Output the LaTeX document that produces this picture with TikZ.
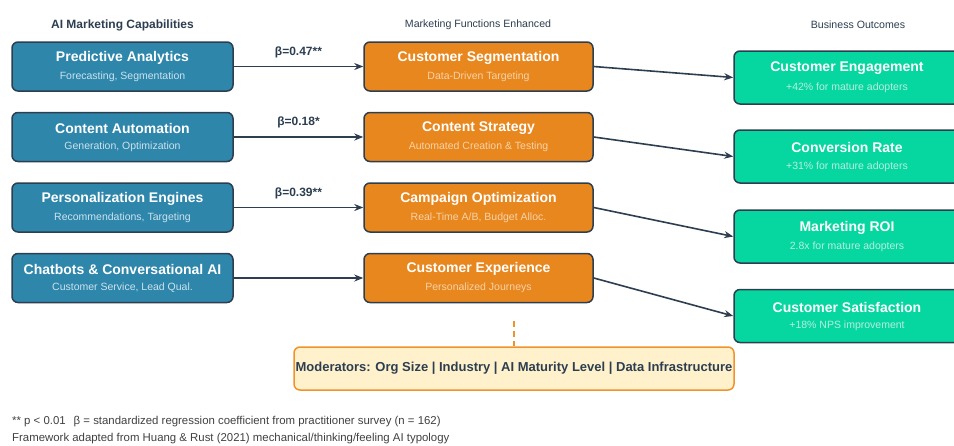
\documentclass[tikz,border=0pt]{standalone}
\usepackage{fontspec}
\setmainfont{Liberation Sans}
\usetikzlibrary{arrows.meta}

\definecolor{capblue}{HTML}{2E86AB}
\definecolor{funcorange}{HTML}{E8871E}
\definecolor{outgreen}{HTML}{06D6A0}
\definecolor{ink}{HTML}{2C3E50}
\definecolor{modfill}{HTML}{FFF1CC}
\definecolor{modedge}{HTML}{F0932B}
\definecolor{capsub}{HTML}{CCE3EE}
\definecolor{funcsub}{HTML}{F7D3A8}
\definecolor{outsub}{HTML}{B6F0E0}
\definecolor{notegray}{HTML}{404040}

\tikzset{
  stagebox/.style={draw=ink, line width=1.5pt, rounded corners=6pt, inner sep=0pt},
  capbox/.style={stagebox, fill=capblue, minimum width=221pt, minimum height=49pt},
  funcbox/.style={stagebox, fill=funcorange, minimum width=229pt, minimum height=49pt},
  outbox/.style={stagebox, fill=outgreen, minimum width=226pt, minimum height=53pt},
  boxtitle/.style={inner sep=0pt, text=white, font=\fontsize{14}{16}\selectfont\bfseries},
  boxsub/.style={inner sep=0pt, font=\fontsize{10.5}{12}\selectfont},
  colhead/.style={inner sep=0pt, text=ink, font=\fontsize{10.6}{13}\selectfont},
  flow/.style={draw=ink, line width=1.6pt, -{Stealth[length=9pt,width=7pt]}},
  beta/.style={inner sep=0pt, text=ink, font=\fontsize{12}{14}\selectfont\bfseries},
  note/.style={inner sep=0pt, anchor=west, text=notegray, font=\fontsize{11.4}{13}\selectfont},
}

% box with a bold title line and a lighter subtitle line
\newcommand\fwbox[7]{%
  \node[#2] (#1) at (#3,#4) {};
  \node[boxtitle] (#1-t) at (#3,#4-9) {#5};
  \node[boxsub, text=#7] (#1-s) at (#3,#4+10) {#6};
}

\begin{document}
\begin{tikzpicture}[x=1pt, y=-1pt]
\useasboundingbox (0,0) rectangle (954,445);

% column headings
\node[colhead, font=\fontsize{12}{14}\selectfont\bfseries] (h1) at (122.5,25) {AI Marketing Capabilities};
\node[colhead] (h2) at (478,25) {Marketing Functions Enhanced};
\node[colhead] (h3) at (858,25) {Business Outcomes};

% AI capabilities
\fwbox{c1}{capbox}{122.5}{66.5}{Predictive Analytics}{Forecasting, Segmentation}{capsub}
\fwbox{c2}{capbox}{122.5}{137}{Content Automation}{Generation, Optimization}{capsub}
\fwbox{c3}{capbox}{122.5}{207.5}{Personalization Engines}{Recommendations, Targeting}{capsub}
\fwbox{c4}{capbox}{122.5}{278}{Chatbots \& Conversational AI}{Customer Service, Lead Qual.}{capsub}

% marketing functions
\fwbox{f1}{funcbox}{478.5}{66.5}{Customer Segmentation}{Data-Driven Targeting}{funcsub}
\fwbox{f2}{funcbox}{478.5}{137}{Content Strategy}{Automated Creation \& Testing}{funcsub}
\fwbox{f3}{funcbox}{478.5}{207.5}{Campaign Optimization}{Real-Time A/B, Budget Alloc.}{funcsub}
\fwbox{f4}{funcbox}{478.5}{278}{Customer Experience}{Personalized Journeys}{funcsub}

% business outcomes
\fwbox{o1}{outbox}{847}{77.5}{Customer Engagement}{+42\% for mature adopters}{outsub}
\fwbox{o2}{outbox}{847}{156.5}{Conversion Rate}{+31\% for mature adopters}{outsub}
\fwbox{o3}{outbox}{847}{236.5}{Marketing ROI}{2.8x for mature adopters}{outsub}
\fwbox{o4}{outbox}{847}{316}{Customer Satisfaction}{+18\% NPS improvement}{outsub}

% capability -> function paths with coefficients
\draw[flow] (c1.east) -- node[beta, midway, above=8pt] (b1) {β=0.47**} (f1.west);
\draw[flow] (c2.east) -- node[beta, midway, above=8pt] (b2) {β=0.18*} (f2.west);
\draw[flow] (c3.east) -- node[beta, midway, above=8pt] (b3) {β=0.39**} (f3.west);
\draw[flow] (c4.east) -- (f4.west);

% function -> outcome paths
\draw[flow] (f1.east) -- (o1.west);
\draw[flow] (f2.east) -- (o2.west);
\draw[flow] (f3.east) -- (o3.west);
\draw[flow] (f4.east) -- (o4.west);

% moderators
\node[draw=modedge, fill=modfill, line width=1.5pt, rounded corners=6pt,
      minimum width=440pt, minimum height=43pt, inner sep=0pt,
      text=ink, font=\fontsize{13}{15}\selectfont\bfseries] (mod) at (514,368.5)
      {Moderators: Org Size | Industry | AI Maturity Level | Data Infrastructure};
\coordinate (modtop) at (514,321);
\draw[modedge, line width=1.5pt, dashed, dash pattern=on 6pt off 4pt] (modtop) -- (mod.north);

% notes
\node[note] (n1) at (12,422) {** p < 0.01\hspace{8pt}β = standardized regression coefficient from practitioner survey (n = 162)};
\node[note] (n2) at (12,439) {Framework adapted from Huang \& Rust (2021) mechanical/thinking/feeling AI typology};
\end{tikzpicture}
\end{document}
